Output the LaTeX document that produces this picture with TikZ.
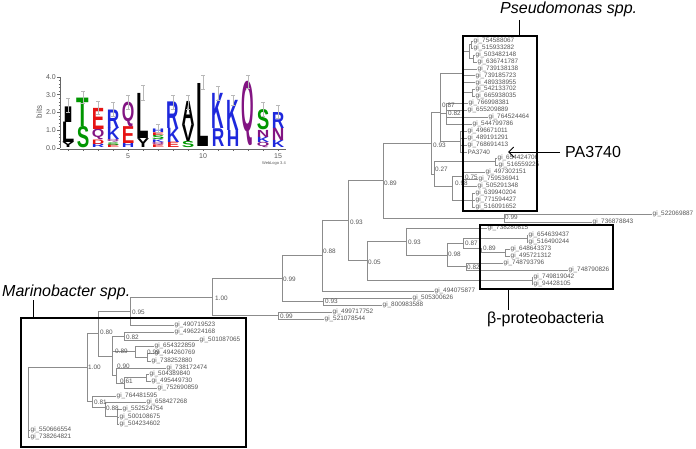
\documentclass[tikz,border=0pt]{standalone}
\usepackage{fontspec}
\setmainfont{Liberation Sans}
\usepackage{graphicx}
\usetikzlibrary{arrows.meta}
\definecolor{treeline}{RGB}{140,140,140}
\definecolor{labgray}{RGB}{85,85,85}
\definecolor{lgreen}{RGB}{0,150,0}
\definecolor{lred}{RGB}{230,20,20}
\definecolor{lblue}{RGB}{30,40,220}
\definecolor{lpurple}{RGB}{130,20,130}
\newcommand\tbH[3]{\draw[tree] (#1,#3) -- (#2,#3);}
\newcommand\tbV[3]{\draw[tree] (#1,#2) -- (#1,#3);}
\newcommand\tbL[4]{\draw[tree] (#1,#2) -- (#3,#2); \node[leaflab] at (#3+0.5,#2) {#4};}
\newcommand\tbS[3]{\node[supp] at (#1,#2) {#3};}
\newcommand\lgL[5]{%
 \pgfmathsetmacro\lgh{17.75*(#3-#2)}%
 \pgfmathsetmacro\lgy{148-17.75*#2}%
 \node[anchor=south,inner sep=0,text=#4] at (#1,\lgy) {\resizebox*{12.5pt}{\lgh pt}{\bfseries #5}};}
\newcommand\lgE[3]{%
 \draw[errbar] (#1,{148-17.75*#2}) -- (#1,{148-17.75*#3});
 \draw[errbar] (#1-2,{148-17.75*#2}) -- (#1+2,{148-17.75*#2});
 \draw[errbar] (#1-2,{148-17.75*#3}) -- (#1+2,{148-17.75*#3});}
\begin{document}
\begin{tikzpicture}[x=1pt,y=-1pt,
 tree/.style={draw=treeline,line width=0.7pt},
 leaflab/.style={anchor=west,inner sep=0,text=labgray,font=\fontsize{6.4}{7}\selectfont},
 supp/.style={anchor=west,inner sep=0,text=labgray,font=\fontsize{6.4}{7}\selectfont},
 cbox/.style={draw=black,line width=2pt},
 bigit/.style={inner sep=0,font=\fontsize{16}{18}\selectfont\itshape},
 bigup/.style={inner sep=0,font=\fontsize{16}{18}\selectfont},
 errbar/.style={draw=gray!55,line width=0.4pt},
 axis/.style={draw=gray!80!black,line width=0.5pt},
 ticklab/.style={inner sep=0,text=gray!70!black,font=\fontsize{7}{8}\selectfont}]
\useasboundingbox (0,0) rectangle (696,449);

% ---------------- sequence logo ----------------
\draw[axis] (60,148) -- (60,77);
\foreach \b/\t in {0/0.0,1/1.0,2/2.0,3/3.0,4/4.0}{
  \draw[axis] (57,{148-17.75*\b}) -- (60,{148-17.75*\b});
  \node[ticklab,anchor=east] at (56,{148-17.75*\b}) {\t};}
\foreach \b in {0.2,0.4,...,3.9}{\draw[axis] (58.5,{148-17.75*\b}) -- (60,{148-17.75*\b});}
\node[ticklab,rotate=90,font=\fontsize{8}{9}\selectfont] (bits) at (39,112) {bits};
\draw[axis] (60,149) -- (286,149);
\foreach \i in {1,...,15}{\draw[axis] ({68+15*(\i-1)},149) -- ({68+15*(\i-1)},151);}
\node[ticklab,anchor=north] (x5) at (128,153) {5};
\node[ticklab,anchor=north] (x10) at (203,153) {10};
\node[ticklab,anchor=north] (x15) at (278,153) {15};
\node[ticklab,anchor=north east,font=\fontsize{4}{5}\selectfont] (wl) at (286,161) {WebLogo 3.4};
% columns
\lgL{68}{0}{0.3}{black}{Y}\lgL{68}{0.3}{1.45}{black}{L}\lgL{68}{1.45}{2.33}{black}{I}\lgE{68}{2.0}{2.8}
\lgL{83}{0}{1.2}{lgreen}{S}\lgL{83}{1.2}{2.8}{lgreen}{T}\lgE{83}{2.5}{3.2}
\lgL{98}{0}{0.2}{lblue}{R}\lgL{98}{0.2}{0.45}{lred}{D}\lgL{98}{0.45}{1.05}{lpurple}{Q}\lgL{98}{1.05}{2.24}{lred}{E}\lgE{98}{1.9}{2.65}
\lgL{113}{0}{0.15}{lred}{E}\lgL{113}{0.15}{0.3}{lgreen}{S}\lgL{113}{0.3}{0.45}{lpurple}{Q}\lgL{113}{0.45}{1.1}{lblue}{K}\lgL{113}{1.1}{2.14}{lblue}{R}\lgE{113}{1.8}{2.6}
\lgL{128}{0}{0.25}{lblue}{H}\lgL{128}{0.25}{1.2}{lred}{E}\lgL{128}{1.2}{2.6}{lpurple}{Q}\lgE{128}{2.2}{3.0}
\lgL{143}{0}{0.5}{black}{Y}\lgL{143}{0.5}{3.04}{black}{L}\lgE{143}{2.7}{3.55}
\lgL{158}{0}{0.15}{lred}{E}\lgL{158}{0.15}{0.3}{lpurple}{Q}\lgL{158}{0.3}{0.45}{lblue}{K}\lgL{158}{0.45}{0.7}{lgreen}{S}\lgL{158}{0.7}{0.85}{lred}{E}\lgL{158}{0.85}{1.05}{lblue}{H}\lgE{158}{0.9}{1.35}
\lgL{173}{0}{0.3}{lred}{E}\lgL{173}{0.3}{1.1}{lblue}{K}\lgL{173}{1.1}{2.6}{lblue}{R}\lgE{173}{2.2}{3.0}
\lgL{188}{0}{0.35}{lgreen}{S}\lgL{188}{0.35}{1.3}{black}{V}\lgL{188}{1.3}{2.6}{black}{A}\lgE{188}{2.2}{2.95}
\lgL{203}{0.1}{3.65}{black}{L}\lgE{203}{3.3}{4.1}
\lgL{218}{0.1}{1.1}{lblue}{R}\lgL{218}{1.1}{3.08}{lblue}{K}\lgE{218}{2.7}{3.5}
\lgL{233}{0.1}{1.0}{lblue}{H}\lgL{233}{1.0}{2.7}{lblue}{K}\lgE{233}{2.4}{3.0}
\lgL{248}{0.1}{3.73}{lpurple}{Q}\lgE{248}{3.35}{4.1}
\lgL{263}{0}{0.3}{lpurple}{Q}\lgL{263}{0.3}{0.6}{lblue}{K}\lgL{263}{0.6}{1.0}{lpurple}{N}\lgL{263}{1.0}{2.14}{lgreen}{S}\lgE{263}{1.8}{2.6}
\lgL{278}{0}{0.4}{lblue}{K}\lgL{278}{0.4}{1.1}{lpurple}{N}\lgL{278}{1.1}{2.0}{lblue}{R}\lgE{278}{1.7}{2.4}

% ---------------- Pseudomonas clade ----------------
\tbH{348}{383}{180}
\tbV{383}{143}{218}
\tbH{383}{431}{143}
\tbV{431}{112}{174}
\tbH{431}{440}{112}
\tbV{440}{73}{141.5}
\tbH{440}{462}{73}
\tbV{462}{51.5}{92.5}
\tbH{462}{469}{51.5}
\tbV{469}{44.5}{58.5}
\tbH{469}{471}{44.5}
\tbV{471}{41}{48}
\tbL{471}{41}{473}{gi\_754588067}
\tbL{471}{48}{473}{gi\_515933282}
\tbH{469}{473}{58.5}
\tbV{473}{55}{62}
\tbL{473}{55}{475}{gi\_503482148}
\tbL{473}{62}{477}{gi\_636741787}
\tbL{462}{69}{477}{gi\_739138138}
\tbL{462}{75.5}{475}{gi\_739185723}
\tbL{462}{82.5}{475}{gi\_489338955}
\tbH{462}{472}{92.5}
\tbV{472}{89}{96}
\tbL{472}{89}{475}{gi\_542133702}
\tbL{472}{96}{475}{gi\_665938035}
\tbH{440}{446}{113}
\tbV{446}{103}{124}
\tbL{446}{103}{468}{gi\_766998381}
\tbL{446}{110}{467}{gi\_655209889}
\tbL{446}{117}{488}{gi\_764524464}
\tbL{446}{124}{472}{gi\_544799786}
\tbH{440}{460}{141.5}
\tbV{460}{131}{152}
\tbL{460}{131}{467}{gi\_496671011}
\tbL{460}{138}{467}{gi\_489191291}
\tbL{460}{145}{467}{gi\_768691413}
\node[leaflab] (pa) at (467.5,152) {PA3740};
\draw[tree] (460,152) -- (467,152);
\tbH{431}{434}{174}
\tbV{434}{161.5}{186.5}
\tbH{434}{495}{161.5}
\tbV{495}{158}{165}
\tbL{495}{158}{497}{gi\_654424706}
\tbL{495}{165}{498}{gi\_516559225}
\tbH{434}{452}{186.5}
\tbV{452}{176}{200}
\tbH{452}{462}{176}
\tbV{462}{172}{186}
\tbL{462}{172}{485}{gi\_497302151}
\tbL{462}{179}{478}{gi\_759536941}
\tbL{462}{186}{477}{gi\_505291348}
\tbH{452}{472}{200}
\tbV{472}{193}{207}
\tbL{472}{193}{475}{gi\_639940204}
\tbL{472}{200}{475}{gi\_771594427}
\tbL{472}{207}{475}{gi\_516091652}
\tbH{383}{504}{218}
\tbV{504}{214}{222}
\tbL{504}{214}{652}{gi\_522069887}
\tbL{504}{222}{592}{gi\_736878843}
\tbS{384}{183}{0.89}
\tbS{505}{217.5}{0.99}
\tbS{433}{145}{0.93}
\tbS{435}{169}{0.27}
\tbS{442}{105}{0.87}
\tbS{448}{113}{0.82}
\tbS{465}{177}{0.75}
\tbS{455}{183}{0.98}

% ---------------- middle / beta clade ----------------
\tbV{348}{180}{260}
\tbH{348}{367}{260}
\tbV{367}{241.5}{280.5}
\tbH{367}{406}{241.5}
\tbV{406}{228}{255}
\tbL{406}{228}{487}{gi\_738280815}
\tbH{406}{447}{255}
\tbV{447}{243}{266.5}
\tbH{447}{463}{243}
\tbV{463}{238.5}{248}
\tbH{463}{527}{238.5}
\tbV{527}{235}{242}
\tbL{527}{235}{528}{gi\_654639437}
\tbL{527}{242}{528}{gi\_516490244}
\tbH{463}{481}{248}
\tbV{481}{248}{252.5}
\tbH{481}{505}{252.5}
\tbV{505}{249}{256}
\tbL{505}{249}{510}{gi\_648643373}
\tbL{505}{256}{510}{gi\_495721312}
\tbH{447}{466}{266.5}
\tbV{466}{263}{270}
\tbL{466}{263}{503}{gi\_748793796}
\tbL{466}{270}{568}{gi\_748790826}
\tbH{367}{532}{280.5}
\tbV{532}{277}{284}
\tbL{532}{277}{533}{gi\_749819042}
\tbL{532}{284}{533}{gi\_94428105}
\tbV{322}{220}{291}
\tbH{322}{348}{220}
\tbL{322}{291}{434}{gi\_494075877}
\tbV{282}{255.5}{301.5}
\tbH{282}{322}{255.5}
\tbH{282}{323}{301.5}
\tbV{323}{298}{305}
\tbL{323}{298}{412}{gi\_505300626}
\tbL{323}{305}{382}{gi\_800983588}
\tbV{212}{278}{315.5}
\tbH{212}{282}{278}
\tbH{212}{278}{315.5}
\tbV{278}{312}{319}
\tbL{278}{312}{332}{gi\_499717752}
\tbL{278}{319}{324}{gi\_521078544}
\tbS{350}{222}{0.93}
\tbS{323}{251}{0.88}
\tbS{368}{262}{0.05}
\tbS{408}{242}{0.93}
\tbS{448}{254}{0.98}
\tbS{465}{243}{0.87}
\tbS{483}{248}{0.89}
\tbS{467}{267}{0.82}
\tbS{283}{279}{0.99}
\tbS{325}{301}{0.93}
\tbS{280}{316}{0.99}
\tbS{215}{298}{1.00}

% ---------------- Marinobacter clade ----------------
\tbV{130}{297}{325}
\tbH{130}{212}{297}
\tbL{130}{325}{174}{gi\_490719523}
\tbV{98}{311}{356}
\tbH{98}{130}{311}
\tbH{98}{112}{356}
\tbV{112}{336}{375.5}
\tbH{112}{124}{336}
\tbV{124}{332}{340}
\tbL{124}{332}{174}{gi\_496224168}
\tbL{124}{340}{199}{gi\_501087065}
\tbH{112}{135}{351.5}
\tbV{135}{346}{357}
\tbL{135}{346}{154}{gi\_654322859}
\tbH{135}{147}{357}
\tbV{147}{353}{361}
\tbL{147}{353}{154}{gi\_494260769}
\tbL{147}{361}{151}{gi\_738252880}
\tbH{112}{116}{375.5}
\tbV{116}{368}{383}
\tbL{116}{368}{166}{gi\_738172474}
\tbH{116}{124}{383}
\tbV{124}{377.5}{388}
\tbH{124}{146}{377.5}
\tbV{146}{374}{381}
\tbL{146}{374}{149}{gi\_504389840}
\tbL{146}{381}{151}{gi\_495449730}
\tbL{124}{388}{157}{gi\_752690859}
\tbV{87}{333.5}{401}
\tbH{87}{98}{333.5}
\tbH{87}{92}{401}
\tbV{92}{396}{407.5}
\tbL{92}{396}{116}{gi\_764481595}
\tbH{92}{105}{407.5}
\tbV{105}{402}{416.5}
\tbL{105}{402}{146}{gi\_658427268}
\tbH{105}{117}{416.5}
\tbV{117}{409}{424}
\tbL{117}{409}{122}{gi\_552524754}
\tbL{117}{417}{119}{gi\_500108675}
\tbL{117}{424}{119}{gi\_504234602}
\tbH{28}{87}{367}
\tbV{28}{367}{437}
\tbL{28}{430}{30}{gi\_550666554}
\tbL{28}{437}{30}{gi\_738264821}
\tbS{132}{312}{0.95}
\tbS{100}{332}{0.80}
\tbS{126}{337}{0.82}
\tbS{115}{351}{0.89}
\tbS{147}{352}{0.99}
\tbS{88}{367}{1.00}
\tbS{117}{366}{0.90}
\tbS{120}{381}{0.61}
\tbS{94}{402}{0.81}
\tbS{106}{408}{0.88}

% ---------------- boxes and titles ----------------
\draw[cbox] (463,36) rectangle (537,211);
\draw[cbox] (480,225) rectangle (613,289);
\draw[cbox] (21,318) rectangle (246,447);
\node[bigit,anchor=base west] (pst) at (500,14) {Pseudomonas spp.};
\coordinate (psb) at (519,36);
\draw[line width=0.8pt] (519,20) -- (psb);
\node[bigit,anchor=base west] (mat) at (2,296) {Marinobacter spp.};
\coordinate (mab) at (33,318);
\draw[line width=0.8pt] (33,300) -- (mab);
\node[bigup,anchor=base west] (bpt) at (487,323.5) {β-proteobacteria};
\coordinate (bpb) at (508,289);
\draw[line width=0.8pt] (bpb) -- (508,310);
\node[bigup,anchor=base west] (pat) at (565,158) {PA3740};
\draw[line width=0.9pt,-{Straight Barb[length=5pt,width=10pt]}] (560,152) -- (508,152);
\end{tikzpicture}
\end{document}
